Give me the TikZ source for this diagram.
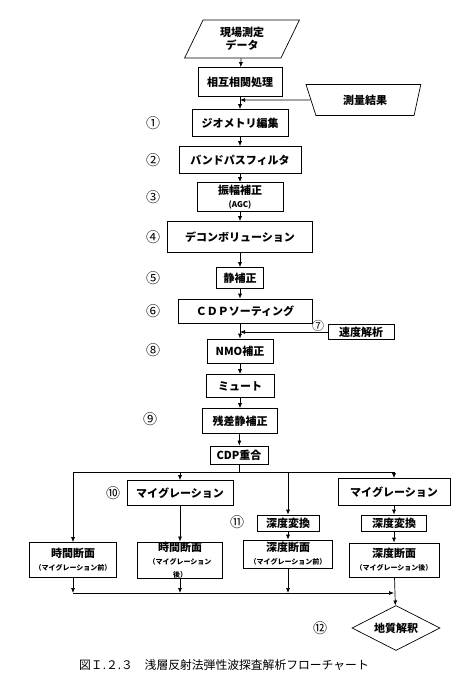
\documentclass[tikz,border=0pt]{standalone}
\usepackage{fontspec}
\setmainfont{Noto Sans CJK JP}
\usetikzlibrary{arrows.meta, calc, positioning, shapes.geometric}

\newcommand{\subtxt}[1]{{\fontsize{7}{9}\selectfont #1}}

\begin{document}
\begin{tikzpicture}
[	
	x=1pt, y=-1pt,
	>={Latex[length=5pt,width=4pt]},
	sq/.style={rectangle,draw,line width=0.7,inner sep=0,align=center,font=\bfseries\fontsize{11}{13}\selectfont},
	num/.style={font=\fontsize{14}{16}\selectfont},
	ln/.style={line width=0.7}
]
\useasboundingbox (0,0) rectangle (469,687);

\node[trapezium,draw,line width=0.7,inner sep=0,align=center,trapezium left angle=66,trapezium right angle=114,trapezium stretches=true,minimum width=115,minimum height=38,font=\bfseries\fontsize{11}{13}\selectfont] (data) at (242,39) {現場測定\\データ};
\node[sq,minimum width=84,minimum height=29] (corr) at (240,82) {相互相関処理};
\node[trapezium,draw,line width=0.7,inner sep=0,shape border rotate=180,trapezium left angle=74,trapezium right angle=67,trapezium stretches=true,minimum width=115,minimum height=31,font=\bfseries\fontsize{11}{13}\selectfont] (surv) at (365,100) {測量結果};

\node[sq,minimum width=96,minimum height=27] (geo) at (240,123) {ジオメトリ編集};
\node[sq,minimum width=122,minimum height=27] (bpf) at (240,160) {バンドパスフィルタ};
\node[sq,minimum width=86,minimum height=29] (agc) at (240,197) {振幅補正\\{\fontsize{8}{9}\selectfont (AGC)}};
\node[sq,minimum width=145,minimum height=31] (decon) at (240,237) {デコンボリューション};
\node[sq,minimum width=47,minimum height=21] (stat) at (240,278) {静補正};
\node[sq,minimum width=134,minimum height=24] (cdp) at (245,311) {ＣＤＰソーティング};
\node[sq,minimum width=66,minimum height=15] (vel) at (361,332) {速度解析};
\node[sq,minimum width=66,minimum height=24] (nmo) at (240,351) {NMO補正};
\node[sq,minimum width=68,minimum height=23] (mute) at (240,386) {ミュート};
\node[sq,minimum width=75,minimum height=25] (resid) at (240,421) {残差静補正};
\node[sq,minimum width=58,minimum height=18] (stack) at (239,455) {CDP重合};

\node[sq,minimum width=106,minimum height=25] (migA) at (180,493) {マイグレーション};
\node[sq,minimum width=112,minimum height=27] (migB) at (394,492) {マイグレーション};
\node[sq,minimum width=62,minimum height=16] (dcA) at (288,523) {深度変換};
\node[sq,minimum width=65,minimum height=16] (dcB) at (394,523) {深度変換};

\node[sq,minimum width=87,minimum height=35] (tsA) at (73,560) {時間断面\\\subtxt{（マイグレーション前）}};
\node[sq,minimum width=85,minimum height=36] (tsB) at (180,560) {時間断面\\\subtxt{（マイグレーション}\\\subtxt{後）}};
\node[sq,minimum width=89,minimum height=28] (dsA) at (288,554) {深度断面\\\subtxt{（マイグレーション前）}};
\node[sq,minimum width=90,minimum height=34] (dsB) at (394,560) {深度断面\\\subtxt{（マイグレーション後）}};

\node[diamond,draw,line width=0.7,aspect=2,inner sep=0,minimum width=88,minimum height=45,font=\bfseries\fontsize{11}{13}\selectfont] (geol) at (396,628) {地質解釈};

% step numbers
\node[num] (n1) at (153,123) {①};
\node[num] (n2) at (153,160) {②};
\node[num] (n3) at (153,197) {③};
\node[num] (n4) at (153,237) {④};
\node[num] (n5) at (153,278) {⑤};
\node[num] (n6) at (153,311) {⑥};
\node[num,font=\fontsize{12}{14}\selectfont] (n7) at (318,326) {⑦};
\node[num] (n8) at (153,350) {⑧};
\node[num] (n9) at (150,419) {⑨};
\node[num] (n10) at (113,493) {⑩};
\node[num] (n11) at (237,522) {⑪};
\node[num] (n12) at (320,628) {⑫};

\node[font=\fontsize{11.8}{13}\selectfont] (cap) at (224,665) {図Ｉ.２.３　浅層反射法弾性波探査解析フローチャート};

\coordinate (j1) at (corr |- surv);
\coordinate (j2) at (nmo |- vel);
\coordinate (bus) at (239,472);
\coordinate (low) at (240,593);

\draw[ln,->]	(data)	--	(corr);
\draw[ln,->]	(corr)	--	(geo);
\draw[ln,->]	(surv)	--	(j1);
\draw[ln,->]	(geo)	--	(bpf);
\draw[ln,->]	(bpf)	--	(agc);
\draw[ln,->]	(agc)	--	(decon);
\draw[ln,->]	(decon)	--	(stat);
\draw[ln,->]	(stat)	--	(stat |- cdp.north);
\draw[ln,->]	(nmo |- cdp.south)	--	(nmo);
\draw[ln,->]	(vel)	--	(j2);
\draw[ln,->]	(nmo)	--	(mute);
\draw[ln,->]	(mute)	--	(resid);
\draw[ln,->]	(resid)	--	(stack);

\draw[ln] (stack) -- (bus);
\draw[ln] (tsA |- bus) -- (migB |- bus);
\draw[ln,->] (tsA |- bus) -- (tsA);
\draw[ln,->] (migA |- bus) -- (migA);
\draw[ln,->] (dcA |- bus) -- (dcA);
\draw[ln,->] (migB |- bus) -- (migB);

\draw[ln,->] (migA) -- (tsB);
\draw[ln,->] (dcA) -- (dsA);
\draw[ln,->] (migB) -- (dcB);
\draw[ln,->] (dcB) -- (dsB);

\draw[ln,->] (tsA) -- (tsA |- low);
\draw[ln,->] (tsB) -- (tsB |- low);
\draw[ln,->] (dsA) -- (dsA |- low);
\draw[ln,->] (tsA |- low) -- (dsB |- low);
\draw[ln,->] (dsB) -- (geol);

\end{tikzpicture}
\end{document}
